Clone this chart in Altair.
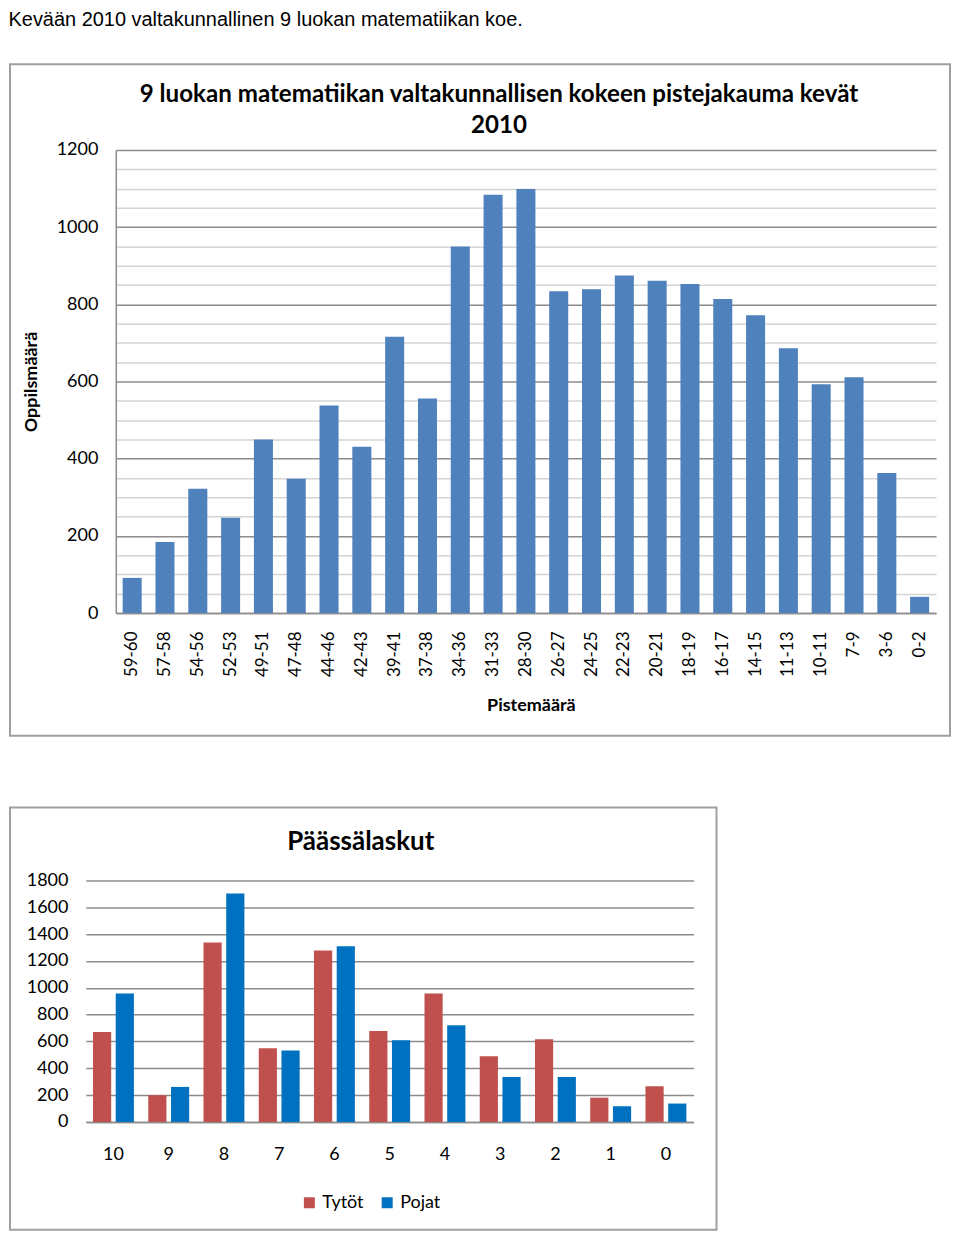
import altair as alt
import pandas as pd

# ---------------- data ----------------
header_text = "Kevään 2010 valtakunnallinen 9 luokan matematiikan koe."

top_title = ["9 luokan matematiikan valtakunnallisen kokeen pistejakauma kevät", "2010"]
score_ranges = ["59-60", "57-58", "54-56", "52-53", "49-51", "47-48", "44-46", "42-43",
                "39-41", "37-38", "34-36", "31-33", "28-30", "26-27", "24-25", "22-23",
                "20-21", "18-19", "16-17", "14-15", "11-13", "10-11", "7-9", "3-6", "0-2"]
student_counts = [91, 184, 322, 247, 450, 348, 538, 431,
                  716, 556, 950, 1084, 1099, 834, 839, 875,
                  861, 853, 814, 772, 686, 593, 611, 363, 42]

mental_title = "Päässälaskut"
mental_scores = ["10", "9", "8", "7", "6", "5", "4", "3", "2", "1", "0"]
groups = ["Tytöt", "Pojat"]
girls = [671, 199, 1337, 549, 1277, 678, 957, 489, 616, 181, 266]
boys = [957, 261, 1702, 532, 1309, 609, 720, 335, 335, 117, 137]

y_top_ticks = list(range(0, 1201, 50))
y_bot_ticks = list(range(0, 1801, 200))

# ---------------- tables ----------------
df_top = pd.DataFrame({"Pistemäärä": score_ranges, "Oppilsmäärä": student_counts})
df_bot = pd.DataFrame({
    "score": mental_scores * 2,
    "group": [groups[0]] * len(mental_scores) + [groups[1]] * len(mental_scores),
    "count": girls + boys,
})
frame_df = pd.DataFrame({"k": [0]})

FONT = "Lato"
FRAME = "#a0a0a0"
GRID_DARK = "#8c8c8c"
GRID_LIGHT = "#d4d4d4"

# ---------------- top chart ----------------
top_frame = alt.Chart(frame_df).mark_rect(filled=False, stroke=FRAME, strokeWidth=2).encode(
    x=alt.value(-106), x2=alt.value(836), y=alt.value(-86), y2=alt.value(587)
)

top_bars = alt.Chart(df_top).mark_bar(color="#4F81BD").encode(
    x=alt.X("Pistemäärä:N", sort=score_ranges,
            scale=alt.Scale(paddingInner=0.42, paddingOuter=0.21),
            axis=alt.Axis(title="Pistemäärä", labelAngle=-90, labelAlign="right",
                          labelBaseline="middle", labelPadding=18, ticks=False,
                          domainColor=GRID_DARK, domainWidth=1.5,
                          labelFont=FONT, labelFontSize=17, labelColor="black",
                          titleFont=FONT, titleFontSize=18, titleFontWeight="bold",
                          titleColor="black", titlePadding=20, titleX=416)),
    y=alt.Y("Oppilsmäärä:Q", scale=alt.Scale(domain=[0, 1200], nice=False),
            axis=alt.Axis(title="Oppilsmäärä", values=y_top_ticks, format="d",
                          labelExpr="datum.value % 200 == 0 ? datum.label : ''",
                          labelOverlap=False, ticks=False,
                          gridColor=alt.condition("datum.value % 200 == 0",
                                                  alt.value(GRID_DARK), alt.value(GRID_LIGHT)),
                          gridWidth=1.5,
                          domainColor=GRID_DARK, domainWidth=1.5,
                          labelFont=FONT, labelFontSize=18, labelColor="black", labelPadding=18,
                          titleFont=FONT, titleFontSize=18, titleFontWeight="bold",
                          titleColor="black", titlePadding=16)),
)

top_chart = alt.layer(top_frame, top_bars).properties(
    width=822, height=464,
    title=alt.TitleParams(top_title, font=FONT, fontSize=24.2, fontWeight="bold",
                          color="black", anchor="middle", frame="group", dx=-27,
                          baseline="bottom", lineHeight=31, offset=-99),
)

# ---------------- bottom chart ----------------
bot_frame = alt.Chart(frame_df).mark_rect(filled=False, stroke=FRAME, strokeWidth=2).encode(
    x=alt.value(-106), x2=alt.value(602), y=alt.value(-73), y2=alt.value(350)
)

bot_bars = alt.Chart(df_bot).mark_bar().encode(
    x=alt.X("score:N", sort=mental_scores,
            scale=alt.Scale(paddingInner=0.26, paddingOuter=0.13, range=[-30, 579]),
            axis=alt.Axis(title=None, labelAngle=0, ticks=False, labelPadding=24,
                          domainColor=GRID_DARK, domainWidth=1.5,
                          labelFont=FONT, labelFontSize=18, labelColor="black")),
    xOffset=alt.XOffset("group:N", sort=groups, scale=alt.Scale(paddingInner=0.2)),
    y=alt.Y("count:Q", scale=alt.Scale(domain=[0, 1800], nice=False),
            axis=alt.Axis(title=None, values=y_bot_ticks, format="d", domain=False,
                          ticks=False, gridColor=GRID_DARK, gridWidth=1.5,
                          labelFont=FONT, labelFontSize=18, labelColor="black",
                          labelPadding=48)),
    color=alt.Color("group:N", sort=groups,
                    scale=alt.Scale(domain=groups, range=["#C0504D", "#0070C0"]),
                    legend=alt.Legend(title=None, orient="none", legendX=185, legendY=314,
                                      direction="horizontal", symbolType="square",
                                      symbolSize=121, symbolStrokeWidth=0,
                                      labelFont=FONT, labelFontSize=18, labelColor="black",
                                      labelOffset=4, columnPadding=14)),
)

bot_chart = alt.layer(bot_frame, bot_bars).properties(
    width=579, height=242,
    title=alt.TitleParams(mental_title, font=FONT, fontSize=26, fontWeight="bold",
                          color="black", anchor="middle", frame="group", dx=-44,
                          baseline="bottom", offset=-74),
)

chart = alt.vconcat(top_chart, bot_chart, spacing=68).resolve_legend(
    color="independent"
).properties(
    padding=0,
    title=alt.TitleParams(header_text, anchor="start", font="Liberation Sans",
                          fontSize=20, fontWeight="normal", color="black", offset=33),
).configure_view(stroke="transparent")

chart.save("out.html", embed_options={"renderer": "svg", "actions": False})
